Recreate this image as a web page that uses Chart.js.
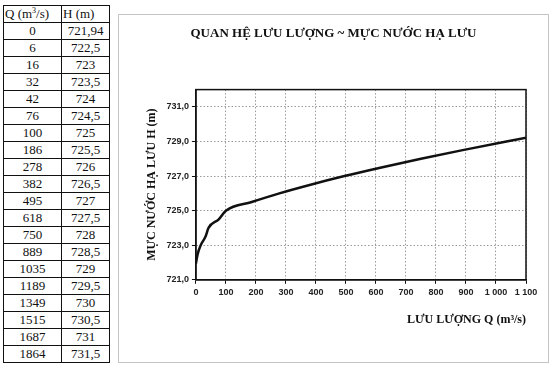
<!DOCTYPE html>
<html>
<head>
<meta charset="utf-8">
<script src="https://cdn.jsdelivr.net/npm/chart.js@4"></script>
<style>
  body { margin: 0; background: #fff; width: 555px; height: 375px; position: relative; overflow: hidden; }
  #tbl { position: absolute; left: 3px; top: 5px; border-collapse: collapse; table-layout: fixed; font-family: "Liberation Serif", serif; font-size: 13px; color: #111; }
  #tbl td { border: 1px solid #111; height: 16px; padding: 0; text-align: center; line-height: 14px; overflow: hidden; }
  #tbl td.q { width: 56px; }
  #tbl td.h { width: 46px; }
  #tbl tr.head td { text-align: left; padding-left: 1px; }
  #tbl sup { font-size: 8px; line-height: 0; vertical-align: 5px; }
  #box { position: absolute; left: 118px; top: 14px; width: 429px; height: 347px; border: 1px solid #c4c4c4; }
  #chart { position: absolute; left: 118px; top: 14px; }
</style>
</head>
<body>
<table id="tbl"></table>
<div id="box"></div>
<canvas id="chart" width="430" height="348"></canvas>
<script>
  // Discharge Q (m3/s) and downstream water level H (m) from the table
  const flows = [0, 6, 16, 32, 42, 76, 100, 186, 278, 382, 495, 618, 750, 889, 1035, 1189, 1349, 1515, 1687, 1864];
  const levels = [721.94, 722.5, 723, 723.5, 724, 724.5, 725, 725.5, 726, 726.5, 727, 727.5, 728, 728.5, 729, 729.5, 730, 730.5, 731, 731.5];
  const levelLabels = ['721,94', '722,5', '723', '723,5', '724', '724,5', '725', '725,5', '726', '726,5', '727', '727,5', '728', '728,5', '729', '729,5', '730', '730,5', '731', '731,5'];
  const yTicks = [721, 723, 725, 727, 729, 731];

  const chartTitle = 'QUAN HỆ LƯU LƯỢNG ~ MỰC NƯỚC HẠ LƯU';
  const xTitle = 'LƯU LƯỢNG Q (m³/s)';
  const yTitle = 'MỰC NƯỚC HẠ LƯU H (m)';

  // build the table on the left
  const tbl = document.getElementById('tbl');
  tbl.innerHTML = '<tr class="head"><td class="q">Q (m<sup>3</sup>/s)</td><td class="h">H (m)</td></tr>' +
    flows.map((q, i) => `<tr><td class="q">${q}</td><td class="h">${levelLabels[i]}</td></tr>`).join('');

  const frameBorder = {
    id: 'frameBorder',
    afterDraw(chart) {
      const { ctx, chartArea } = chart;
      ctx.save();
      ctx.strokeStyle = '#111';
      ctx.lineWidth = 1.5;
      ctx.strokeRect(chartArea.left, chartArea.top, chartArea.right - chartArea.left, chartArea.bottom - chartArea.top);
      ctx.restore();
    }
  };

  const tickFont = { family: '"Liberation Sans Narrow", "Liberation Sans", sans-serif', size: 9, weight: 'bold' };
  const titleFont = { family: '"Liberation Serif", serif', size: 12, weight: 'bold' };

  new Chart(document.getElementById('chart'), {
    type: 'line',
    data: {
      datasets: [{
        data: flows.map((q, i) => ({ x: q, y: levels[i] })),
        borderColor: '#111',
        borderWidth: 2.5,
        pointRadius: 0,
        cubicInterpolationMode: 'monotone',
        fill: false
      }]
    },
    options: {
      responsive: false,
      animation: false,
      layout: { padding: { left: 23, right: 22, top: 0, bottom: 31 } },
      plugins: {
        legend: { display: false },
        tooltip: { enabled: false },
        title: {
          display: true,
          text: chartTitle,
          color: '#111',
          font: { family: '"Liberation Serif", serif', size: 13, weight: 'bold' },
          padding: { top: 12, bottom: 48 }
        }
      },
      scales: {
        x: {
          type: 'linear',
          min: 0,
          max: 1100,
          ticks: {
            stepSize: 100,
            color: '#222',
            font: tickFont,
            maxRotation: 0,
            padding: 3,
            callback: v => String(v).replace(/\B(?=(\d{3})+(?!\d))/g, ' ')
          },
          grid: { color: '#9a9a9a', tickColor: '#111', tickLength: 4 },
          border: { color: '#111', width: 1.5, dash: [1.5, 2] },
          title: { display: true, text: xTitle, align: 'end', color: '#111', font: titleFont, padding: { top: 12, bottom: 4 } }
        },
        y: {
          min: 721,
          max: 732,
          afterBuildTicks: scale => { scale.ticks = yTicks.map(v => ({ value: v })); },
          ticks: {
            color: '#222',
            font: tickFont,
            padding: 3,
            callback: v => v.toFixed(1).replace('.', ',')
          },
          grid: { color: '#9a9a9a', tickColor: '#111', tickLength: 4 },
          border: { color: '#111', width: 1.5, dash: [1.5, 2] },
          title: { display: true, text: yTitle, color: '#111', font: titleFont, padding: { top: 4, bottom: 4 } }
        }
      }
    },
    plugins: [frameBorder]
  });
</script>
</body>
</html>
